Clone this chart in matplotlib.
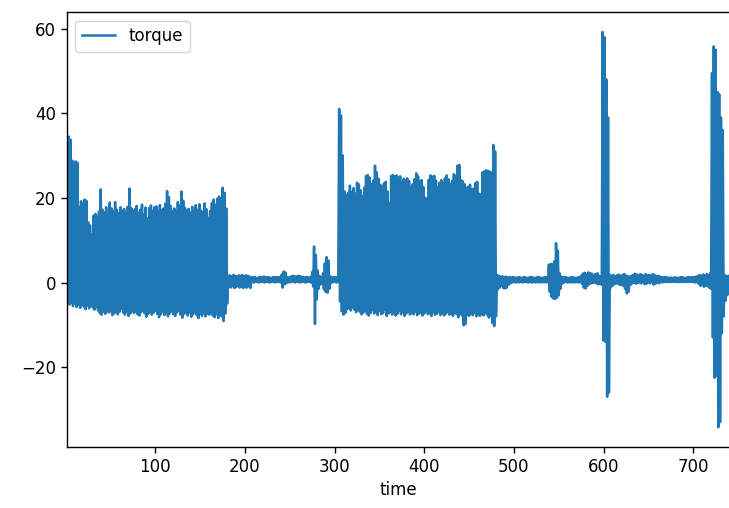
import numpy as np
import pandas as pd
import matplotlib
matplotlib.use("Agg")
import matplotlib.pyplot as plt

# torque read off the picture as peak / trough pairs, one pair per 2 time units
# (first value of each pair at t = 1, 3, 5, ...; second value one unit later)

# active block 1, t 1 .. 180
block1_hi = [34.2, 34.5, 33.8, 28.8, 28.5, 28.6, 28.3, 17.8, 19.2, 18.6,
             19.6, 19.3, 14.2, 13.5, 11.4, 15.8, 16.2, 15.5, 16.8, 22.0,
             17.2, 16.5, 17.8, 16.2, 18.9, 17.5, 16.8, 19.0, 17.2, 16.4,
             17.8, 16.9, 17.4, 16.6, 17.9, 22.2, 17.6, 16.8, 17.3, 18.1,
             16.5, 17.2, 18.4, 16.0, 17.7, 15.2, 17.6, 18.2, 16.9, 17.8,
             18.0, 16.7, 18.3, 17.1, 17.5, 18.6, 21.6, 20.2, 18.1, 16.9,
             17.5, 16.8, 19.0, 18.2, 21.5, 19.3, 17.6, 16.9, 17.4, 16.5,
             17.9, 16.7, 18.3, 17.2, 18.5, 17.0, 16.6, 18.7, 17.3, 15.3,
             16.9, 18.8, 19.6, 18.4, 19.8, 20.3, 19.9, 22.4, 21.2, 17.5]
block1_lo = [-4.5, -5.2, -4.8, -5.6, -4.9, -5.8, -5.3, -6.0, -5.1, -5.7,
             -6.3, -5.4, -6.1, -5.5, -5.9, -6.4, -5.8, -6.6, -7.2, -7.6,
             -6.9, -7.4, -6.5, -7.1, -6.8, -7.7, -7.3, -6.7, -7.5, -6.9,
             -6.2, -7.1, -7.6, -6.8, -7.9, -7.3, -6.6, -7.2, -6.9, -7.5,
             -7.8, -7.0, -6.6, -7.3, -8.1, -7.4, -6.8, -7.6, -7.1, -6.7,
             -7.4, -8.2, -7.5, -6.9, -7.7, -7.2, -8.0, -7.3, -6.8, -7.5,
             -7.9, -7.1, -6.7, -7.6, -8.3, -7.4, -7.0, -7.8, -7.2, -8.1,
             -7.5, -6.9, -7.7, -8.4, -7.3, -7.9, -7.1, -8.0, -7.4, -7.6,
             -7.0, -7.8, -8.2, -7.5, -8.4, -7.7, -8.0, -9.1, -7.3, -5.0]

# quiet stretch, t 181 .. 304
quiet1_hi = [1.6, 1.7, 1.5, 1.8, 1.6, 1.5, 1.7, 1.6, 1.8, 1.5,
             1.7, 1.6, 1.4, 1.3, 1.2, 1.3, 1.1, 1.2, 1.3, 1.2,
             1.4, 1.2, 1.3, 1.2, 1.1, 1.3, 1.2, 1.3, 1.2, 1.3,
             1.9, 2.6, 2.4, 1.3, 1.2, 1.4, 1.6, 1.5, 1.4, 1.6,
             1.5, 1.4, 1.3, 1.2, 1.3, 1.2, 1.3, 2.5, 8.5, 6.5,
             2.8, 1.6, 1.2, 2.2, 4.5, 6.0, 5.2, 1.5, 1.2, 1.3,
             1.2, 1.3]
quiet1_lo = [-1.0, -1.2, -0.9, -1.3, -1.1, -0.8, -1.2, -1.0, -1.3, -1.1,
             -1.2, -0.9, -1.3, 0.1, 0.0, 0.2, 0.1, 0.0, 0.2, 0.1,
             0.0, 0.2, 0.1, 0.0, 0.2, 0.1, 0.0, 0.2, 0.1, 0.0,
             -1.2, -0.4, -0.2, 0.1, 0.0, 0.2, 0.1, 0.0, 0.2, 0.1,
             0.0, 0.2, 0.1, 0.0, 0.2, 0.1, 0.0, -1.0, -9.8, -4.0,
             -1.5, -0.5, -0.3, -1.6, -2.2, -2.4, -1.5, -0.2, 0.1, 0.2,
             0.0, 0.1]

# active block 2, t 305 .. 480
block2_hi = [41.0, 39.5, 30.0, 21.5, 20.6, 21.2, 22.9, 21.4, 22.3, 21.0,
             23.6, 23.2, 21.8, 20.5, 22.4, 25.2, 25.4, 24.8, 23.3, 24.1,
             27.6, 26.0, 24.5, 23.1, 22.6, 23.4, 23.8, 21.5, 18.7, 25.2,
             25.4, 25.0, 25.3, 24.8, 25.1, 23.6, 24.5, 24.2, 24.6, 24.0,
             22.5, 23.2, 24.4, 25.8, 25.1, 23.9, 24.2, 22.6, 20.0, 19.8,
             24.3, 25.3, 25.0, 25.2, 24.1, 22.5, 23.6, 24.2, 23.5, 24.6,
             25.3, 24.4, 23.3, 24.0, 25.6, 25.2, 27.6, 27.8, 24.2, 23.9,
             23.2, 22.4, 22.6, 23.1, 22.0, 22.2, 23.5, 23.8, 21.0, 20.8,
             26.0, 26.3, 26.5, 26.4, 26.2, 26.0, 32.5, 31.0]
block2_lo = [-4.5, -6.8, -7.6, -7.2, -6.3, -6.0, -6.6, -5.9, -6.4, -7.0,
             -6.2, -6.9, -7.5, -7.1, -6.7, -7.4, -7.8, -7.2, -6.5, -7.3,
             -7.0, -7.7, -6.8, -7.5, -7.2, -6.4, -7.9, -7.3, -6.9, -7.6,
             -7.1, -7.8, -7.4, -6.7, -7.5, -7.0, -7.9, -7.3, -6.8, -7.6,
             -7.2, -7.5, -6.9, -7.7, -7.4, -7.1, -7.8, -7.3, -6.6, -7.5,
             -7.3, -7.9, -7.0, -7.6, -7.4, -6.9, -7.7, -7.2, -7.8, -7.4,
             -7.0, -7.6, -7.3, -7.9, -7.1, -7.5, -8.2, -7.4, -7.8, -10.1,
             -9.8, -7.6, -7.9, -7.3, -7.7, -7.2, -8.0, -7.5, -7.9, -7.4,
             -7.8, -7.1, -7.6, -8.3, -7.9, -9.6, -10.3, -8.0]

# quiet stretch, t 481 .. 598
quiet2_hi = [1.8, 1.6, 1.4, 1.5, 1.3, 1.4, 1.2, 1.3, 1.2, 1.3,
             1.2, 1.1, 1.3, 1.2, 1.1, 1.3, 1.2, 1.1, 1.2, 1.3,
             1.2, 1.1, 1.2, 1.3, 1.2, 1.1, 1.2, 1.3, 1.2, 4.2,
             4.4, 4.3, 5.0, 9.3, 7.5, 2.2, 1.4, 1.2, 1.3, 1.2,
             1.1, 1.2, 1.3, 1.2, 1.1, 1.2, 1.3, 1.6, 2.1, 2.3,
             1.9, 2.4, 2.2, 2.1, 1.8, 2.0, 2.2, 1.6, 1.4]
quiet2_lo = [-1.6, -1.2, -0.8, -1.3, -1.4, -1.2, -0.6, -0.2, 0.0, 0.1,
             0.0, 0.1, 0.0, 0.1, 0.0, 0.2, 0.1, 0.0, 0.1, 0.0,
             0.1, 0.0, 0.1, 0.0, 0.1, 0.0, 0.1, 0.0, 0.1, -2.2,
             -3.4, -3.8, -3.9, -3.6, -3.0, -1.5, -0.2, 0.0, 0.1, 0.0,
             0.1, 0.0, 0.1, 0.0, 0.1, 0.0, 0.1, -0.3, -1.2, -1.4,
             -0.8, -0.4, -0.2, -0.1, 0.0, -0.2, -0.4, -0.3, -0.6]

# spike near t = 600
spike1_hi = [59.2, 58.0, 48.0, 39.0, 1.8]
spike1_lo = [-13.7, -14.0, -27.0, -26.0, -1.2]

# quiet stretch, t 609 .. 720
quiet3_hi = [1.6, 1.8, 1.5, 1.7, 1.9, 1.6, 1.8, 2.0, 1.7, 1.5,
             1.4, 1.6, 1.8, 2.1, 1.9, 1.7, 2.0, 1.8, 1.6, 2.0,
             1.7, 1.8, 1.6, 2.0, 1.8, 1.5, 1.6, 1.4, 1.3, 1.2,
             1.3, 1.2, 1.1, 1.2, 1.1, 1.2, 1.2, 1.1, 1.2, 1.3,
             1.2, 1.1, 1.2, 1.3, 1.2, 1.3, 1.2, 1.4, 1.5, 1.8,
             1.6, 1.9, 1.7, 2.0, 1.8, 2.2]
quiet3_lo = [-0.8, -0.4, -0.2, -0.3, -0.5, -0.6, -0.8, -1.5, -2.6, -2.2,
             -0.6, -0.2, 0.0, -0.3, -0.1, 0.0, -0.2, 0.1, -0.4, -0.3,
             0.0, -0.2, 0.1, -0.5, -0.3, 0.0, -0.2, 0.1, 0.0, 0.1,
             0.2, 0.1, 0.2, 0.1, 0.2, 0.1, 0.2, 0.1, 0.2, 0.1,
             0.2, 0.1, 0.2, 0.1, 0.2, 0.1, 0.0, 0.1, -0.3, -0.8,
             -0.5, -1.0, -0.7, -0.9, -1.2, -1.5]

# spike near t = 725
spike2_hi = [49.5, 55.8, 55.0, 45.0, 44.5, 39.0, 36.0]
spike2_lo = [-13.0, -22.5, -22.0, -34.2, -33.0, -12.0, -8.0]

# tail, t 735 .. 742
tail_hi = [1.8, 1.5, 1.6, 1.3]
tail_lo = [-4.3, -3.0, -1.5, -0.8]

hi = np.array(block1_hi + quiet1_hi + block2_hi + quiet2_hi + spike1_hi
              + quiet3_hi + spike2_hi + tail_hi)
lo = np.array(block1_lo + quiet1_lo + block2_lo + quiet2_lo + spike1_lo
              + quiet3_lo + spike2_lo + tail_lo)

torque = np.empty(2 * len(hi))
torque[0::2] = hi
torque[1::2] = lo
time = np.arange(1, len(torque) + 1)

df = pd.DataFrame({"time": time, "torque": torque})

plt.rcParams["path.simplify"] = False
plt.rcParams["font.size"] = 12
plt.rcParams["axes.linewidth"] = 1.0
plt.rcParams["xtick.major.size"] = 4.2
plt.rcParams["ytick.major.size"] = 4.2
plt.rcParams["xtick.major.width"] = 1.0
plt.rcParams["ytick.major.width"] = 1.0

fig = plt.figure(figsize=(7.29, 5.08), dpi=100)
ax = fig.add_axes([0.0915, 0.120, 0.911, 0.856])
df.plot(x="time", y="torque", ax=ax, linewidth=1.8, color="#1f77b4")
ax.set_xlim(time[0], time[-1])
ax.legend(loc="upper left")

fig.savefig("out.png", dpi=100)
